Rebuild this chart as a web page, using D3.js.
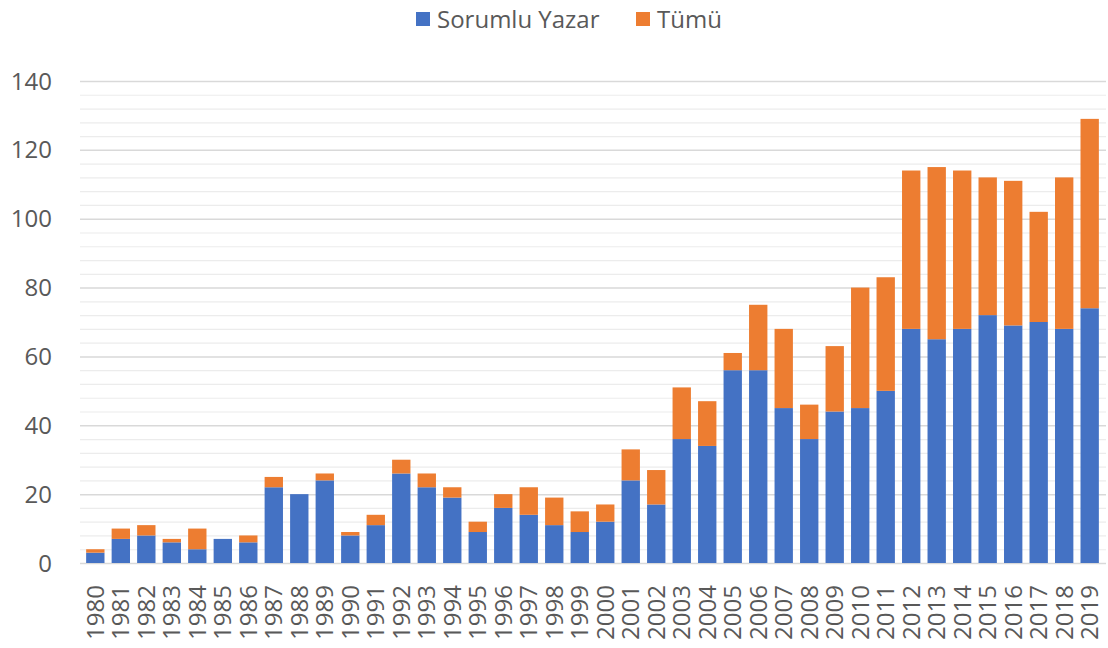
<!DOCTYPE html>
<html>
<head>
<meta charset="utf-8">
<script src="https://cdn.jsdelivr.net/npm/d3@7"></script>
<style>
  body { margin: 0; background: #fff; }
  text { font-family: "Open Sans", sans-serif; fill: #595959; }
</style>
</head>
<body>
<svg id="chart" width="1108" height="648"></svg>
<script>
// values
const years = ['1980','1981','1982','1983','1984','1985','1986','1987','1988','1989',
  '1990','1991','1992','1993','1994','1995','1996','1997','1998','1999',
  '2000','2001','2002','2003','2004','2005','2006','2007','2008','2009',
  '2010','2011','2012','2013','2014','2015','2016','2017','2018','2019'];
const sorumlu = [3,7,8,6,4,7,6,22,20,24, 8,11,26,22,19,9,16,14,11,9,
  12,24,17,36,34,56,56,45,36,44, 45,50,68,65,68,72,69,70,68,74];
const tumu = [1,3,3,1,6,0,2,3,0,2, 1,3,4,4,3,3,4,8,8,6,
  5,9,10,15,13,5,19,23,10,19, 35,33,46,50,46,40,42,32,44,55];
const seriesNames = ['Sorumlu Yazar', 'Tümü'];
const colors = ['#4472C4', '#ED7D31'];
const yTicks = [0, 20, 40, 60, 80, 100, 120, 140];

const svg = d3.select('#chart');

const x = d3.scaleBand().domain(years).range([79, 1106]).padding(0.28);
const y = d3.scaleLinear().domain([0, 140]).range([563, 81]);

// minor grid every 4
svg.append('g')
  .selectAll('line')
  .data(d3.range(0, 141, 4).filter(v => v % 20 !== 0))
  .join('line')
  .attr('x1', 80).attr('x2', 1106)
  .attr('y1', d => y(d) + 0.5).attr('y2', d => y(d) + 0.5)
  .attr('stroke', '#ececec').attr('stroke-width', 1.2);

// major grid
svg.append('g')
  .selectAll('line')
  .data(yTicks)
  .join('line')
  .attr('x1', 80).attr('x2', 1106)
  .attr('y1', d => y(d) + 0.5).attr('y2', d => y(d) + 0.5)
  .attr('stroke', '#d9d9d9').attr('stroke-width', 1.5);

// y labels
svg.append('g')
  .selectAll('text')
  .data(yTicks)
  .join('text')
  .attr('x', 52).attr('y', d => y(d))
  .attr('dy', '0.36em')
  .attr('text-anchor', 'end')
  .style('font-size', '24px')
  .text(d => d);

// stacked bars
const rows = years.map((yr, i) => ({ year: yr, s: sorumlu[i], t: tumu[i] }));
const stacked = d3.stack().keys(['s', 't'])(rows);

svg.append('g')
  .selectAll('g')
  .data(stacked)
  .join('g')
  .attr('fill', (d, i) => colors[i])
  .selectAll('rect')
  .data(d => d)
  .join('rect')
  .attr('x', d => x(d.data.year))
  .attr('width', x.bandwidth())
  .attr('y', d => y(d[1]))
  .attr('height', d => y(d[0]) - y(d[1]));

// x labels, rotated
svg.append('g')
  .selectAll('text')
  .data(years)
  .join('text')
  .attr('transform', d => `translate(${x(d) + x.bandwidth() / 2},640) rotate(-90)`)
  .attr('dy', '0.36em')
  .attr('text-anchor', 'start')
  .style('font-size', '24px')
  .text(d => d);

// legend
const legend = svg.append('g');
const legendX = [416, 636];
seriesNames.forEach((name, i) => {
  legend.append('rect')
    .attr('x', legendX[i]).attr('y', 12)
    .attr('width', 14).attr('height', 14)
    .attr('fill', colors[i]);
  legend.append('text')
    .attr('x', legendX[i] + 21).attr('y', 19)
    .attr('dy', '0.36em')
    .style('font-size', '24px')
    .text(name);
});
</script>
</body>
</html>
